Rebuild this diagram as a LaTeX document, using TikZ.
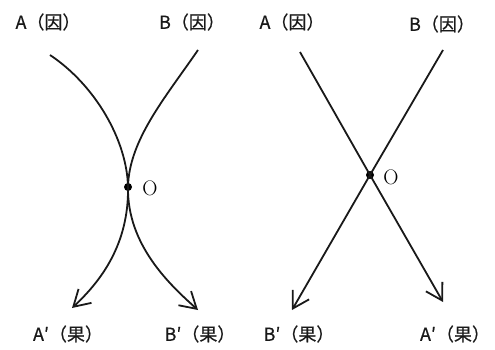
\documentclass[tikz,border=0pt]{standalone}
\usepackage{fontspec}
\newfontfamily\cjk[FakeBold=0.5]{Noto Sans CJK SC}
\usetikzlibrary{arrows.meta}
\tikzset{
  lbl/.style={font=\cjk\fontsize{18}{20}\selectfont, inner sep=0pt, text=black!90},
  olbl/.style={font=\fontsize{21}{23}\selectfont, inner sep=0pt},
  cause/.style={line width=1.8pt, black!90, -{Straight Barb[length=16pt,width=19pt,line width=1.8pt]}},
  dotn/.style={circle, fill=black, inner sep=0pt, minimum size=8pt}
}
\begin{document}
\begin{tikzpicture}[x=1pt,y=-1pt]
\useasboundingbox (0,0) rectangle (495,350);
% left figure
\node[lbl] (la) at (48,22) {A（因）};
\node[lbl] (lb) at (192,22) {B（因）};
\node[lbl] (lap) at (68,334) {A′（果）};
\node[lbl] (lbp) at (200,334) {B′（果）};
\node[dotn] (lo) at (128,187) {};
\node[olbl] (lot) at (150,188) {O};
\coordinate (la1) at (50,55);
\coordinate (lb1) at (198,50);
\coordinate (la2) at (72,308);
\coordinate (lb2) at (198,310);
\draw[cause] (la1) .. controls (95,85) and (127,140) .. (lo.center)
  .. controls (129,245) and (100,282) .. (la2);
\draw[cause] (lb1) .. controls (165,98) and (129,140) .. (lo.center)
  .. controls (127,245) and (170,285) .. (lb2);
% right figure
\node[lbl] (ra) at (292,22) {A（因）};
\node[lbl] (rb) at (442,24) {B（因）};
\node[lbl] (rbp) at (299,334) {B′（果）};
\node[lbl] (rap) at (455,334) {A′（果）};
\node[dotn] (ro) at (370,175) {};
\node[olbl] (rot) at (391,177) {O};
\coordinate (ra1) at (300,52);
\coordinate (rb1) at (443,50);
\coordinate (ra2) at (443,302);
\coordinate (rb2) at (292,310);
\draw[cause] (ra1) -- (ro.center) -- (ra2);
\draw[cause] (rb1) -- (ro.center) -- (rb2);
\end{tikzpicture}
\end{document}
